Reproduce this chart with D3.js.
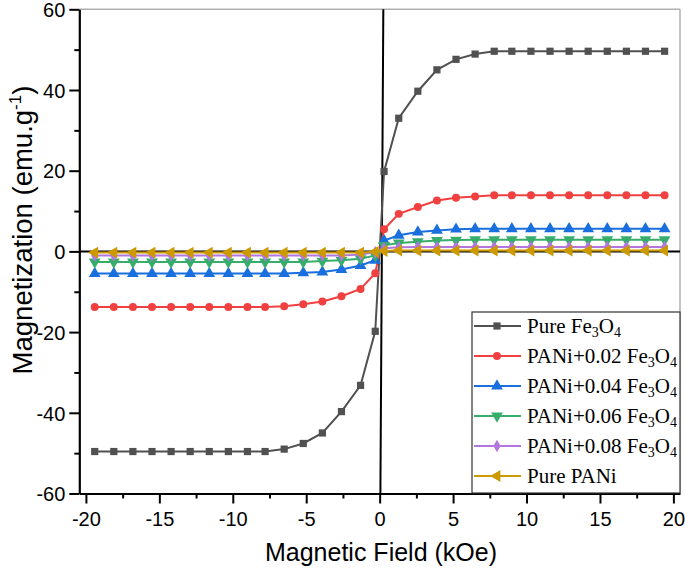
<!DOCTYPE html>
<html>
<head>
<meta charset="utf-8">
<script src="https://cdn.jsdelivr.net/npm/d3@7"></script>
<style>
  html, body { margin: 0; padding: 0; background: #fff; }
  svg { display: block; }
</style>
</head>
<body>
<div id="chart"></div>
<script>
// ---------------- data ----------------
const field = [-19.4, -18.1, -16.8, -15.5, -14.2, -12.9, -11.6, -10.3, -9.0, -7.8, -6.5, -5.2, -3.9, -2.6, -1.3, -0.3,
               0.3, 1.3, 2.6, 3.9, 5.2, 6.5, 7.8, 9.0, 10.3, 11.6, 12.9, 14.2, 15.5, 16.8, 18.1, 19.4];

const pureFe3O4 = [-49.6, -49.6, -49.6, -49.6, -49.6, -49.6, -49.6, -49.6, -49.6, -49.6, -49.0, -47.6, -45.0, -39.7, -33.2, -19.8,
                   19.8, 33.0, 39.7, 45.0, 47.6, 48.9, 49.6, 49.6, 49.6, 49.6, 49.6, 49.6, 49.6, 49.6, 49.6, 49.6];
const pani002 = [-13.8, -13.8, -13.8, -13.8, -13.8, -13.8, -13.8, -13.8, -13.8, -13.8, -13.6, -13.1, -12.4, -11.1, -9.3, -5.4,
                 5.5, 9.3, 11.0, 12.6, 13.3, 13.6, 13.9, 13.9, 13.9, 13.9, 13.9, 13.9, 13.9, 13.9, 13.9, 13.9];
const pani004 = [-5.5, -5.5, -5.5, -5.5, -5.5, -5.5, -5.5, -5.5, -5.5, -5.5, -5.5, -5.3, -5.1, -4.5, -3.5, -2.2,
                 2.7, 4.0, 4.8, 5.2, 5.5, 5.6, 5.6, 5.6, 5.6, 5.6, 5.6, 5.6, 5.6, 5.6, 5.6, 5.6];
const pani006 = [-2.6, -2.6, -2.6, -2.6, -2.6, -2.6, -2.6, -2.6, -2.6, -2.6, -2.6, -2.6, -2.4, -2.2, -1.8, -1.0,
                 1.5, 2.1, 2.4, 2.7, 2.8, 2.9, 2.9, 2.9, 2.9, 2.9, 2.9, 2.9, 2.9, 2.9, 2.9, 2.9];
const pani008 = [-1.0, -1.0, -1.0, -1.0, -1.0, -1.0, -1.0, -1.0, -1.0, -1.0, -1.0, -1.0, -1.0, -1.0, -0.8, -0.2,
                 0.8, 1.0, 1.1, 1.1, 1.1, 1.1, 1.1, 1.1, 1.1, 1.1, 1.1, 1.1, 1.1, 1.1, 1.1, 1.1];
const purePANi = [-0.3, -0.3, -0.3, -0.3, -0.3, -0.3, -0.3, -0.3, -0.3, -0.3, -0.3, -0.3, -0.3, -0.3, -0.3, -0.1,
                  0.1, 0.2, 0.2, 0.2, 0.2, 0.2, 0.2, 0.2, 0.2, 0.2, 0.2, 0.2, 0.2, 0.2, 0.2, 0.2];

const seriesNames = ["Pure Fe3O4", "PANi+0.02 Fe3O4", "PANi+0.04 Fe3O4", "PANi+0.06 Fe3O4", "PANi+0.08 Fe3O4", "Pure PANi"];
const seriesValues = [pureFe3O4, pani002, pani004, pani006, pani008, purePANi];
const seriesColors = ["#515151", "#F14040", "#1A6FDF", "#37AD6B", "#B177DE", "#CC9900"];

const xTicks = [-20, -15, -10, -5, 0, 5, 10, 15, 20];
const yTicks = [-60, -40, -20, 0, 20, 40, 60];

// ---------------- layout ----------------
const W = 685, H = 570;
const svg = d3.select("#chart").append("svg").attr("width", W).attr("height", H);

const x = d3.scaleLinear().domain([-20.45, 20.45]).range([79.3, 680]);
const y = d3.scaleLinear().domain([-60, 60]).range([493.5, 9.3]);

const pL = x.range()[0], pR = x.range()[1], pT = y.range()[1], pB = y.range()[0];

// frame (top/right light)
svg.append("line").attr("x1", pL).attr("x2", pR).attr("y1", pT).attr("y2", pT)
  .attr("stroke", "#b0b0b0").attr("stroke-width", 1.5);
svg.append("line").attr("x1", pR).attr("x2", pR).attr("y1", pT).attr("y2", pB)
  .attr("stroke", "#b0b0b0").attr("stroke-width", 1.5);

// zero lines
svg.append("line").attr("x1", pL).attr("x2", pR).attr("y1", y(0)).attr("y2", y(0))
  .attr("stroke", "#000").attr("stroke-width", 2);
svg.append("line").attr("x1", x(0.25)).attr("x2", x(0.05)).attr("y1", pT).attr("y2", pB)
  .attr("stroke", "#000").attr("stroke-width", 2);

// series
const symbols = [d3.symbolSquare, d3.symbolCircle, d3.symbolTriangle, d3.symbolTriangle, d3.symbolDiamond, d3.symbolTriangle];
const rotations = [0, 0, 0, 180, 0, -90];
const sizes = [52, 50, 60, 60, 45, 60];

const line = d3.line().x(d => x(d[0])).y(d => y(d[1]));

seriesValues.forEach((vals, i) => {
  const pts = field.map((f, k) => [f, vals[k]]);
  const g = svg.append("g");
  g.append("path").attr("d", line(pts)).attr("fill", "none")
    .attr("stroke", seriesColors[i]).attr("stroke-width", 2);
  g.selectAll("path.m").data(pts).enter().append("path").attr("class", "m")
    .attr("d", d3.symbol().type(symbols[i]).size(sizes[i]))
    .attr("transform", d => `translate(${x(d[0])},${y(d[1])}) rotate(${rotations[i]})`)
    .attr("fill", seriesColors[i]);
});

// axes
const fmt = d => String(d);
const xAxis = svg.append("g").attr("transform", `translate(0,${pB})`);
xAxis.call(d3.axisBottom(x).tickValues(xTicks).tickSize(10).tickSizeOuter(0).tickPadding(5).tickFormat(fmt));
const xMinor = svg.append("g").attr("transform", `translate(0,${pB})`);
xMinor.call(d3.axisBottom(x).tickValues([-17.5, -12.5, -7.5, -2.5, 2.5, 7.5, 12.5, 17.5]).tickSize(5).tickFormat(""));
xMinor.select(".domain").remove();

const yAxis = svg.append("g").attr("transform", `translate(${pL},0)`);
yAxis.call(d3.axisLeft(y).tickValues(yTicks).tickSize(10).tickSizeOuter(0).tickPadding(4).tickFormat(fmt));
const yMinor = svg.append("g").attr("transform", `translate(${pL},0)`);
yMinor.call(d3.axisLeft(y).tickValues([-50, -30, -10, 10, 30, 50]).tickSize(5).tickFormat(""));
yMinor.select(".domain").remove();

svg.selectAll(".domain").attr("stroke", "#000").attr("stroke-width", 2.2);
svg.selectAll(".tick line").attr("stroke", "#000").attr("stroke-width", 2);
svg.selectAll(".tick text").attr("font-family", "Liberation Sans, Arial, sans-serif")
  .attr("font-size", 20).attr("fill", "#000");
xAxis.selectAll(".tick text").attr("dy", "0.85em");
yAxis.selectAll(".tick text").attr("dy", "0.36em");

// axis titles
svg.append("text").attr("x", 381).attr("y", 561).attr("text-anchor", "middle")
  .attr("font-family", "Liberation Sans, Arial, sans-serif").attr("font-size", 25)
  .text("Magnetic Field (kOe)");

const yt = svg.append("text").attr("transform", "translate(32,230) rotate(-90)")
  .attr("text-anchor", "middle")
  .attr("font-family", "Liberation Sans, Arial, sans-serif").attr("font-size", 27.5);
yt.append("tspan").text("Magnetization (emu.g");
yt.append("tspan").attr("font-size", 17).attr("dy", -11).text("-1");
yt.append("tspan").attr("dy", 11).text(")");

// legend
const lg = svg.append("g");
lg.append("rect").attr("x", 472).attr("y", 312).attr("width", 208).attr("height", 181)
  .attr("fill", "#fff").attr("stroke", "#333").attr("stroke-width", 1.2);
const rowY = [326, 356, 386, 416, 446, 476];
seriesNames.forEach((name, i) => {
  const yy = rowY[i];
  lg.append("line").attr("x1", 474).attr("x2", 521).attr("y1", yy).attr("y2", yy)
    .attr("stroke", seriesColors[i]).attr("stroke-width", 2);
  lg.append("path").attr("d", d3.symbol().type(symbols[i]).size(sizes[i]))
    .attr("transform", `translate(497,${yy}) rotate(${rotations[i]})`).attr("fill", seriesColors[i]);
  const t = lg.append("text").attr("x", 527).attr("y", yy + 7)
    .attr("font-family", "Liberation Serif, Times New Roman, serif").attr("font-size", 21).attr("fill", "#000");
  const m = name.match(/^(.*)Fe3O4$/);
  if (m) {
    t.append("tspan").text(m[1] + "Fe");
    t.append("tspan").attr("font-size", 14).attr("dy", 4).text("3");
    t.append("tspan").attr("dy", -4).text("O");
    t.append("tspan").attr("font-size", 14).attr("dy", 4).text("4");
  } else {
    t.text(name);
  }
});
</script>
</body>
</html>
